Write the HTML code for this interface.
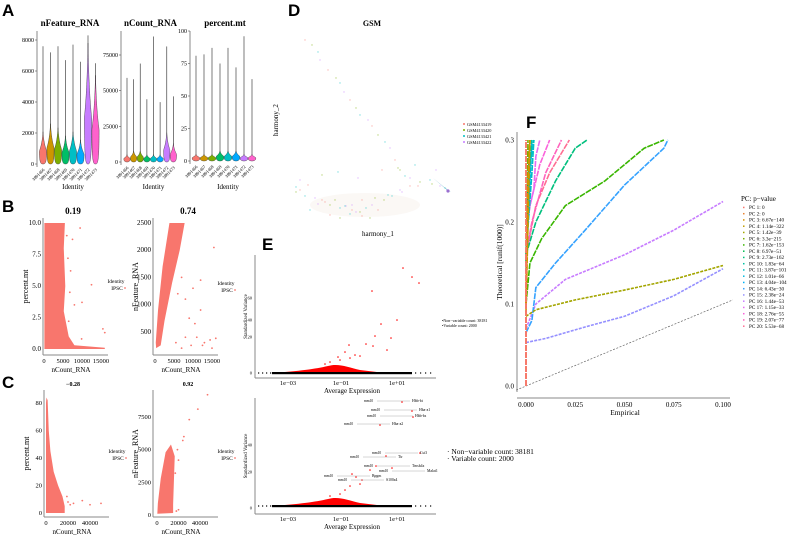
<!DOCTYPE html>
<html><head><meta charset="utf-8"><style>
html,body{margin:0;padding:0;background:#fff;width:800px;height:537px;overflow:hidden}
svg{display:block}
text{font-family:"Liberation Serif",serif;fill:#000}
.L{font-family:"Liberation Sans",sans-serif;font-weight:bold;font-size:17px}
.t{font-size:6px}
.ax{stroke:#888;stroke-width:1;fill:none}
</style></head><body>
<svg id="fig" width="800" height="537" viewBox="0 0 800 537">
<text class="L" x="2" y="16">A</text>
<text class="L" x="2" y="212">B</text>
<text class="L" x="2" y="388">C</text>
<text class="L" x="288" y="16">D</text>
<text class="L" x="262" y="250">E</text>
<text class="L" x="526" y="128">F</text>
<g id="gA"></g>
<g id="gB"></g>
<g id="gD"></g>
<g id="gE"></g>
<g id="gF"></g>
</svg>
<script>
const NS="http://www.w3.org/2000/svg";
function mk(p,tag,a,txt){const e=document.createElementNS(NS,tag);for(const k in a)e.setAttribute(k,a[k]);if(txt!==undefined)e.textContent=txt;p.appendChild(e);return e;}
// ---------- A data ----------
const sampleIds=["3891466","3891467","3891468","3891469","3891470","3891471","3891472","3891473"];
const hue8=["#F8766D","#CD9600","#7CAE00","#00BE67","#00BFC4","#00A9FF","#C77CFF","#FF61CC"];
const featMax=[7600,7200,7600,6700,7700,6600,8300,6500];
const featMode=[800,1000,900,700,800,600,3000,2200];
const countMax=[59000,58000,69000,44000,88000,42000,81000,46000];
const countMode=[2000,3000,3000,2000,2000,2000,8000,5000];
const mtMax=[81,82,87,75,87,72,96,63];
const mtMode=[2,2,2,3,3,3,2,2];
const featTicks=[0,2000,4000,6000,8000];
const countTicks=[0,25000,50000,75000];
const mtTicks=[0,25,50,75,100];
const gA=document.getElementById('gA');
function violinPanel(name,title,x0,x1,yBottom,yTopVal,yTopPx,maxes,modes,ticks,axisTop){
  const g=mk(gA,'g',{});
  
  
  const ys=v=>yBottom-(v/yTopVal)*(yBottom-yTopPx);
  mk(g,'text',{x:(x0+x1)/2,y:26,'text-anchor':'middle','font-size':'9','font-weight':'bold'},title);
  mk(g,'line',{x1:x0,y1:axisTop,x2:x0,y2:yBottom+3,class:'ax'});
  ticks.forEach(t=>{mk(g,'line',{x1:x0-2,x2:x0,y1:ys(t),y2:ys(t),stroke:'#555','stroke-width':0.6});
    mk(g,'text',{x:x0-3,y:ys(t)+2,'text-anchor':'end',class:'t'},String(t));});
  const step=(x1-x0-6)/8;
  maxes.forEach((m,i)=>{
    const cx=x0+6+step*i;
    mk(g,'line',{x1:cx,x2:cx,y1:ys(m),y2:ys(0),stroke:'#444','stroke-width':0.7});
    const md=ys(modes[i]),b=ys(0),top=ys(Math.min(modes[i]*2.6,m));
    const w=Math.min(step*0.48,4.2);
    const p=mk(g,'path',{d:`M${cx},${top} C${cx+w*0.3},${md-(b-md)*0.4} ${cx+w},${md-2} ${cx+w},${md} C${cx+w},${b-1} ${cx+w*0.6},${b} ${cx},${b} C${cx-w*0.6},${b} ${cx-w},${b-1} ${cx-w},${md} C${cx-w},${md-2} ${cx-w*0.3},${md-(b-md)*0.4} ${cx},${top}Z`,fill:hue8[i],stroke:'#333','stroke-width':0.4});
    
    
    mk(g,'text',{x:cx+2,y:yBottom+6,'text-anchor':'end','font-size':'4.5',transform:`rotate(-45 ${cx+2} ${yBottom+6})`},sampleIds[i]);
  });
  mk(g,'text',{x:(x0+x1)/2+3,y:189,'text-anchor':'middle','font-size':'7'},'Identity');
}
violinPanel('violin-nfeature','nFeature_RNA',37,103,164,8000,40,featMax,featMode,featTicks,31);
violinPanel('violin-ncount','nCount_RNA',121,180,162,75000,55,countMax,countMode,countTicks,31);
violinPanel('violin-percent-mt','percent.mt',190,260,161,100,31,mtMax,mtMode,mtTicks,31);

// ---------- B/C data ----------
const gB=document.getElementById('gB');
const sc=[
 {name:'scatter-percentmt-vs-ncount',title:'0.19',tx:73,ty:214,ax:43,x0:44,xv:15000,xp:101,yb:349,yvTop:10,yp:223,ylab:'percent.mt',xticks:[0,5000,10000,15000],yticks:[0,2.5,5,7.5,10],fmt:v=>v.toFixed(1),
  blob:[[100,10],[5500,10],[5200,8],[5600,5],[5200,3],[6500,1],[8000,0.3],[16000,0.1],[16000,0],[100,0]],
  pts:[[9500,9.6],[7500,8.7],[10000,3.7],[12500,5.1],[15500,1.6],[16000,1.3],[9900,0.8],[8000,3.5],[7000,6.2],[6000,9],[6300,7.2],[6800,4.5],[6500,2.2]],top:218,bot:355,legY:283},
 {name:'scatter-nfeature-vs-ncount',title:'0.74',tx:188,ty:214,ax:153,x0:155,xv:15000,xp:212,yb:359,yvTop:2500,yp:223,ylab:'nFeature_RNA',xticks:[0,5000,10000,15000],yticks:[500,1000,1500,2000,2500],fmt:v=>String(v),
  blob:[[300,200],[1500,250],[2500,700],[4500,1400],[6500,2000],[7800,2500],[3800,2500],[2000,1700],[800,900],[200,300]],
  pts:[[15500,2050],[12000,1450],[10000,1300],[8000,1100],[12000,900],[9000,750],[10500,650],[11000,400],[13000,300],[14500,350],[16000,380],[7000,200],[9500,250],[12500,250],[15000,200],[8000,400],[5500,300],[7000,1500],[6000,1200]],top:218,bot:355,legY:285},
 {name:'scatter-percentmt-vs-ncount-c',title:'−0.28',tx:73,ty:386,ax:44,x0:46,xv:40000,xp:90,yb:513,yvTop:80,yp:403,ylab:'percent.mt',xticks:[0,20000,40000],yticks:[0,20,40,60,80],fmt:v=>String(v),
  blob:[[400,84],[1500,82],[2500,60],[4000,45],[7000,30],[11000,20],[15000,12],[17000,5],[17000,0],[0,0],[0,80]],
  pts:[[25000,7],[20000,8],[33000,9],[40000,6],[50000,7],[19000,12],[22000,6]],top:390,bot:517,legY:453},
 {name:'scatter-nfeature-vs-ncount-c',title:'0.92',tx:188,ty:386,ax:153,x0:157,xv:40000,xp:200,yb:515,yvTop:7500,yp:417,ylab:'nFeature_RNA',xticks:[0,20000,40000],yticks:[0,2500,5000,7500],fmt:v=>String(v),
  blob:[[300,100],[15000,150],[15000,800],[16500,4500],[13000,5400],[8000,4800],[3500,2800],[800,900]],
  pts:[[30000,7300],[38000,8100],[47000,9200],[25000,6000],[24000,5700],[20000,4200],[17000,3200],[18000,300],[20000,400],[19000,5000]],top:390,bot:517,legY:453}
];
sc.forEach(s=>{
  const g=mk(gB,'g',{});
  
  
  const X=v=>s.x0+v/s.xv*(s.xp-s.x0), Y=v=>s.yb-v/s.yvTop*(s.yb-s.yp);
  mk(g,'text',{x:s.tx,y:s.ty,'text-anchor':'middle','font-size':s.ty>300?'6':'9','font-weight':'bold'},s.title);
  mk(g,'line',{x1:s.ax,x2:s.ax,y1:s.top,y2:s.bot,class:'ax'});
  mk(g,'line',{x1:s.ax,x2:s.ax+65,y1:s.bot,y2:s.bot,class:'ax'});
  s.yticks.forEach(t=>mk(g,'text',{x:s.ax-2,y:Y(t)+2,'text-anchor':'end','font-size':s.yb>400?'6.5':'7'},s.fmt(t)));
  s.xticks.forEach(t=>mk(g,'text',{x:X(t),y:s.bot+8,'text-anchor':'middle','font-size':'6.5'},String(t)));
  mk(g,'text',{x:s.ax+28,y:s.bot+17,'text-anchor':'middle','font-size':'7'},'nCount_RNA');
  const cy=(s.top+s.bot)/2;
  mk(g,'text',{x:s.ax-15,y:cy,'text-anchor':'middle','font-size':'8',transform:`rotate(-90 ${s.ax-15} ${cy})`},s.ylab);
  const bl=mk(g,'polygon',{points:s.blob.map(p=>X(p[0])+','+Y(p[1])).join(' '),fill:'#F8766D'});
  
  
  s.pts.forEach(p=>{const c=mk(g,'circle',{cx:X(p[0]),cy:Y(p[1]),r:0.9,fill:'#F8766D'});
    
    });
  mk(g,'text',{x:s.ax+73,y:s.legY,'text-anchor':'middle','font-size':'5.5'},'Identity');
  mk(g,'text',{x:s.ax+74,y:s.legY+7,'text-anchor':'middle','font-size':'5.5'},'IPSC');
  mk(g,'circle',{cx:s.ax+82,cy:s.legY+5,r:0.9,fill:'#F8766D'});
});

// ---------- D ----------
const gD=document.getElementById('gD');
const hx=[305,312,318,320,328,336,340,344,350,356,360,368,372,378,385,390,395,400,405,410,300,296,305,315,322,330,340,346,352,360,366,372,378,384,392,400,410,420,430,440,445,448,330,340,350,356,362,370,310,318,325,335,345,352,362,375,388,402,418,432,296,300,308,322,338,358,382,398,415,436];
const hy=[40,45,52,60,70,78,83,92,100,108,115,120,126,135,142,148,160,170,176,178,190,192,196,198,200,205,208,206,210,212,208,205,210,200,196,190,186,182,180,186,188,190,215,218,214,212,216,218,210,204,202,200,206,205,200,198,195,192,186,184,187,180,185,175,172,178,170,168,165,170];
const hg=[0,1,2,3,0,1,2,3,0,1,2,3,0,1,2,3,0,1,2,3,0,1,2,3,0,1,2,3,0,1,2,3,0,1,2,3,0,1,2,3,2,3,0,1,2,3,0,1,2,3,0,1,2,3,0,1,2,3,0,1,2,3,0,1,2,3,0,1,2,3];
const hcols=["#F8766D","#7CAE00","#00BFC4","#C77CFF"];
const gsm=["GSM4133419","GSM4133420","GSM4133421","GSM4133422"];
mk(gD,'text',{x:372,y:26,'text-anchor':'middle','font-size':'8','font-weight':'bold'},'GSM');
mk(gD,'text',{x:378,y:236,'text-anchor':'middle','font-size':'7'},'harmony_1');
mk(gD,'text',{x:278,y:120,'text-anchor':'middle','font-size':'7',transform:'rotate(-90 278 120)'},'harmony_2');
mk(gD,'ellipse',{cx:365,cy:205,rx:55,ry:12,fill:'#e9d8c6',opacity:0.18});
hx.forEach((x,i)=>{const c=mk(gD,'circle',{cx:x,cy:hy[i],r:0.7,fill:hcols[hg[i]],opacity:0.5});
  
  });
mk(gD,'path',{d:'M433,178 L447,190 L451,192 L444,187 Z',fill:'#4aa3c0',opacity:0.8});
mk(gD,'circle',{cx:448,cy:191,r:1.6,fill:'#9a6fd0'});
gsm.forEach((n,i)=>{mk(gD,'circle',{cx:464,cy:124+i*6,r:1,fill:hcols[i]});
  const t=mk(gD,'text',{x:467,y:126+i*6,'font-size':'4.3'},n);
  
  });

// ---------- E ----------
const gE=document.getElementById('gE');
const eTopOutX=[403,412,419,372,397,381,375,391,373,349,366,387,355,345,340,350,330,360,325,338];
const eTopOutY=[268,277,283,291,320,324,336,338,346,345,344,350,355,352,360,358,362,356,364,357];
const eBotOutX=[402,412,413,380,420,386,392,352,356,362,370,376,345,350,340,360,330];
const eBotOutY=[402,411,417,425,453,456,468,474,477,480,470,466,490,486,494,484,496];
const geneLabels=["Hbb-bt","Hba-a1","Hbb-bs","Hba-a2","Cst3","Ttr","Tmsb4x","Malat1","Bpgm","S100a4"];
const geneLx=[412,419,415,392,420,398,412,427,372,386];
const geneLy=[402,411,417,425,454,458,467,472,477,481];
function ePanel(name,top,base,ax,ticksV,ticksY){
  const g=mk(gE,'g',{});
  
  
  mk(g,'line',{x1:255,x2:255,y1:top,y2:ax,class:'ax'});
  mk(g,'line',{x1:255,x2:436,y1:ax,y2:ax,class:'ax'});
  ticksV.forEach((t,i)=>mk(g,'text',{x:252,y:ticksY[i]+1.5,'text-anchor':'end','font-size':'4.5'},t));
  [['1e−03',288],['1e−01',341],['1e+01',397]].forEach(a=>mk(g,'text',{x:a[1],y:ax+7,'text-anchor':'middle','font-size':'6.5'},a[0]));
  mk(g,'text',{x:352,y:ax+15,'text-anchor':'middle','font-size':'7'},'Average Expression');
  const cy=(top+ax)/2;
  mk(g,'text',{x:247,y:cy,'text-anchor':'middle','font-size':'5',transform:`rotate(-90 247 ${cy})`},'Standardized Variance');
  mk(g,'path',{d:`M272,${base} C300,${base-2} 315,${base-4} 328,${base-7} C338,${base-10} 348,${base-6} 360,${base-3} L385,${base}Z`,fill:'#f00'});
  mk(g,'rect',{x:272,y:base-1,width:140,height:2.2,fill:'#000'});
  for(const x of [258,262,266,270,415,420,425,430])mk(g,'rect',{x:x,y:base-0.6,width:1.2,height:1.2,fill:'#000'});
  return g;
}
const et=ePanel('variable-features-top',255,373,378,['60','40','20','0'],[298,320,337,373]);
eTopOutX.forEach((x,i)=>{const c=mk(et,'circle',{cx:x,cy:eTopOutY[i],r:0.8,fill:'#f00'});
  
  });
mk(gE,'text',{x:442,y:322,'font-size':'4'},'•Non−variable count: 38181');
mk(gE,'text',{x:442,y:327,'font-size':'4'},'•Variable count: 2000');
const eb=ePanel('variable-features-bottom',398,506,514,['40','20','0'],[445,472,508]);
eBotOutX.forEach((x,i)=>{const c=mk(eb,'circle',{cx:x,cy:eBotOutY[i],r:0.8,fill:'#f00'});
  
  });
geneLabels.forEach((n,i)=>{const x=geneLx[i],y=geneLy[i];
  mk(eb,'line',{x1:x-35,x2:x-2,y1:y-1,y2:y-1,stroke:'#999','stroke-width':0.4});
  mk(eb,'text',{x:x-48,y:y,'font-size':'3.6'},'mm10');
  const t=mk(eb,'text',{x:x,y:y,'font-size':'3.8'},n);
  
  });
mk(gE,'text',{x:447,y:454,'font-size':'7.5'},'·  Non−variable count: 38181');
mk(gE,'text',{x:447,y:461,'font-size':'7.5'},'·  Variable count: 2000');

// ---------- F ----------
const gF=document.getElementById('gF');
const pcLabels=["PC 1: 0","PC 2: 0","PC 3: 6.67e−140","PC 4: 1.14e−322","PC 5: 1.42e−39","PC 6: 3.3e−215","PC 7: 1.62e−153","PC 8: 6.97e−51","PC 9: 2.73e−162","PC 10: 1.83e−64","PC 11: 3.87e−101","PC 12: 1.01e−66","PC 13: 4.04e−104","PC 14: 6.43e−30","PC 15: 2.38e−24","PC 16: 1.44e−53","PC 17: 1.15e−33","PC 18: 2.76e−55","PC 19: 2.07e−77","PC 20: 5.53e−68"];
const pcCols=["#F8766D","#EA8331","#D89000","#C09B00","#A3A500","#7CAE00","#39B600","#00BB4E","#00BF7D","#00C1A3","#00BFC4","#00BAE0","#00B0F6","#35A2FF","#9590FF","#C77CFF","#E76BF3","#FA62DB","#FF62BC","#FF6C91"];
const pcEmp=[[0,0],[0,0],[0,0.001,0.002],[0,0.002],[0,0.005,0.025,0.05,0.075,0.1],[0,0.001],[0,0.002,0.008,0.02,0.04,0.06,0.07],[0,0.001,0.002],[0,0.005,0.015,0.025,0.031],[0,0.002,0.003],[0,0.003,0.004],[0,0.002,0.004],[0,0.001,0.003],[0,0.003,0.005,0.015,0.03,0.05,0.07,0.072],[0,0.01,0.03,0.05,0.075,0.1],[0,0.005,0.02,0.05,0.075,0.1],[0,0.004,0.005,0.007],[0,0.002,0.007,0.012],[0,0.003,0.01,0.018],[0,0,0.005,0.012,0.022]];
const pcThe=[[0,0.3],[0,0.3],[0.1,0.25,0.3],[0.09,0.3],[0.085,0.093,0.105,0.117,0.13,0.147],[0.1,0.3],[0.1,0.15,0.18,0.22,0.25,0.29,0.3],[0.15,0.25,0.3],[0.16,0.2,0.25,0.29,0.3],[0.15,0.27,0.3],[0.16,0.26,0.3],[0.16,0.27,0.3],[0.14,0.2,0.3],[0.065,0.08,0.12,0.15,0.19,0.245,0.29,0.3],[0.053,0.058,0.072,0.085,0.11,0.143],[0.07,0.1,0.13,0.16,0.19,0.225],[0.2,0.24,0.28,0.3],[0.18,0.22,0.27,0.3],[0.16,0.2,0.26,0.3],[0,0.16,0.22,0.26,0.3]];
const fxTicks=[0,0.025,0.05,0.075,0.1];
const fyTicks=[0,0.1,0.2,0.3];
const FX=v=>526+v*1970, FY=v=>386-v*820;
mk(gF,'line',{x1:517,x2:517,y1:132,y2:392,class:'ax'});
mk(gF,'line',{x1:517,x2:730,y1:398,y2:398,class:'ax'});
fyTicks.forEach(t=>mk(gF,'text',{x:514,y:FY(t)+2.5,'text-anchor':'end','font-size':'7'},t.toFixed(1)));
fxTicks.forEach(t=>mk(gF,'text',{x:FX(t),y:407,'text-anchor':'middle','font-size':'7'},t.toFixed(3)));
mk(gF,'text',{x:625,y:415,'text-anchor':'middle','font-size':'7.5'},'Empirical');
mk(gF,'text',{x:502,y:262,'text-anchor':'middle','font-size':'7.5',transform:'rotate(-90 502 262)'},'Theoretical [runif(1000)]');
const dg=mk(gF,'line',{x1:FX(-0.005),y1:FY(-0.005),x2:FX(0.105),y2:FY(0.105),stroke:'#666','stroke-width':0.7,'stroke-dasharray':'2,1.5'});


for(let i=pcEmp.length-1;i>=0;i--){
  const pl=mk(gF,'polyline',{points:pcEmp[i].map((e,j)=>FX(e)+','+FY(pcThe[i][j])).join(' '),fill:'none',stroke:pcCols[i],'stroke-width':1.6,'stroke-dasharray':(i==4||i==14||i==15)?'3,1.2':'6,1'});
  
  
}
mk(gF,'text',{x:741,y:201,'font-size':'7'},'PC: p−value');
pcLabels.forEach((n,i)=>{const y=209+i*6.25;
  mk(gF,'rect',{x:743,y:y-2.3,width:1.5,height:1.5,fill:pcCols[i]});
  const t=mk(gF,'text',{x:749,y:y,'font-size':'5.2'},n);
  
  });
</script>
</body></html>
